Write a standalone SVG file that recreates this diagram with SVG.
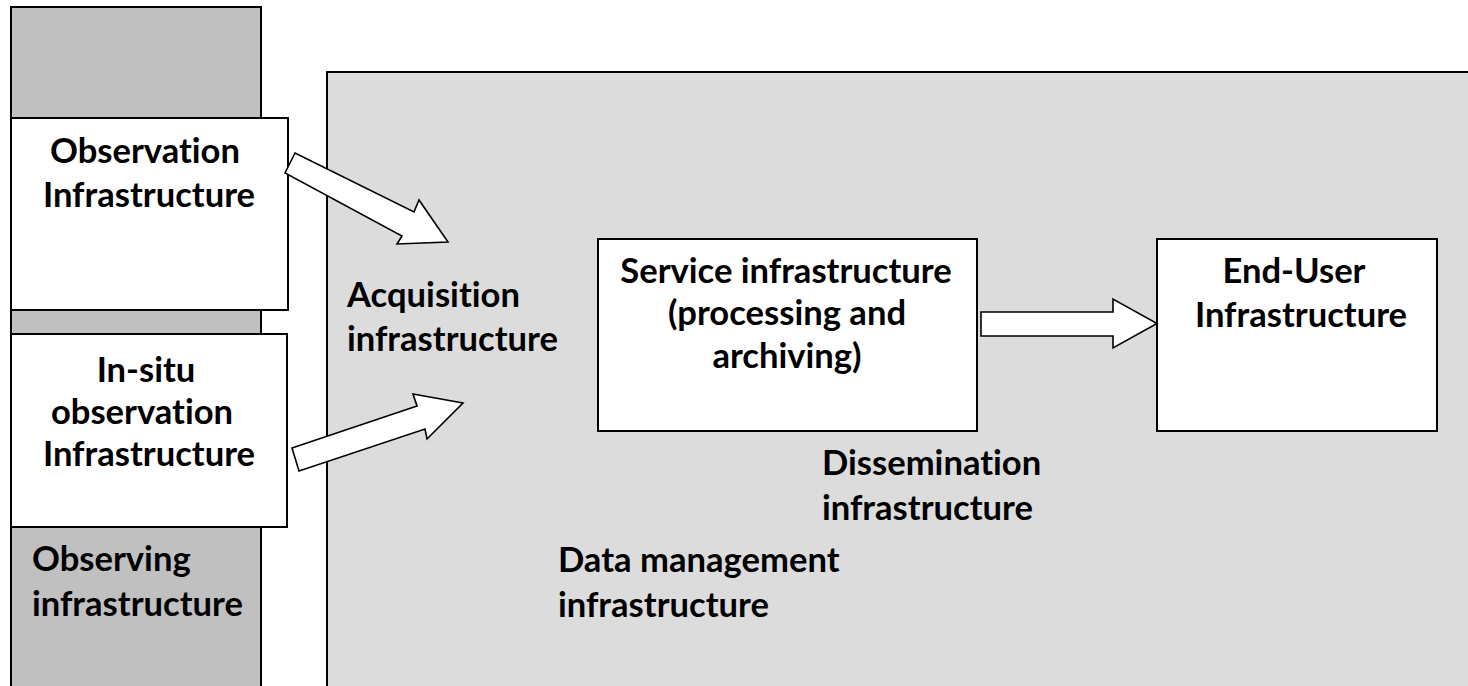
<svg xmlns="http://www.w3.org/2000/svg" width="1468" height="686" viewBox="0 0 1468 686">
<style>
.t{font-family:Lato,"Open Sans",sans-serif;font-weight:bold;font-size:34.6px;fill:#000;font-variant-ligatures:none}
.c{text-anchor:middle}
.box{fill:#fff;stroke:#000;stroke-width:2}
.arr{fill:#fff;stroke:#000;stroke-width:1.6;stroke-linejoin:miter}
</style>
<rect width="1468" height="686" fill="#fff"/>
<g id="observing">
<rect x="11" y="7" width="250" height="690" fill="#c0c0c0" stroke="#000" stroke-width="2"/>
<text class="t" x="32" y="571">Observing</text>
<text class="t" x="32" y="616">infrastructure</text>
</g>
<g id="datamgmt">
<rect x="327" y="72" width="1160" height="630" fill="#dcdcdc" stroke="#000" stroke-width="2"/>
<text class="t" x="558" y="572">Data management</text>
<text class="t" x="558" y="617">infrastructure</text>
</g>
<g id="acquisition">
<text class="t" x="347" y="307">Acquisition</text>
<text class="t" x="347" y="351">infrastructure</text>
</g>
<g id="dissemination">
<text class="t" x="822" y="475">Dissemination</text>
<text class="t" x="822" y="520">infrastructure</text>
</g>
<g id="obs">
<rect class="box" x="11" y="118" width="277" height="192"/>
<text class="t c" x="145" y="163">Observation</text>
<text class="t c" x="149" y="207">Infrastructure</text>
</g>
<g id="insitu">
<rect class="box" x="11" y="334" width="276" height="193"/>
<text class="t c" x="146" y="382">In-situ</text>
<text class="t c" x="142" y="424">observation</text>
<text class="t c" x="149" y="466">Infrastructure</text>
</g>
<g id="service">
<rect class="box" x="598" y="239" width="379" height="192"/>
<text class="t c" x="786" y="283">Service infrastructure</text>
<text class="t c" x="787" y="325">(processing and</text>
<text class="t c" x="787" y="368">archiving)</text>
</g>
<g id="enduser">
<rect class="box" x="1157" y="239" width="280" height="192"/>
<text class="t c" x="1294" y="283">End-User</text>
<text class="t c" x="1301" y="327">Infrastructure</text>
</g>
<g id="connectors">
<polygon class="arr" points="295,153 414,212 419,200 448,242 397,244 402,236 285,173"/>
<polygon class="arr" points="292,448 417,406 413,394 463,403 427,439 425,429 299,471"/>
<polygon class="arr" points="981,312 1113,312 1113,299 1157,323.5 1113,348 1113,336 981,336"/>
</g>
</svg>
